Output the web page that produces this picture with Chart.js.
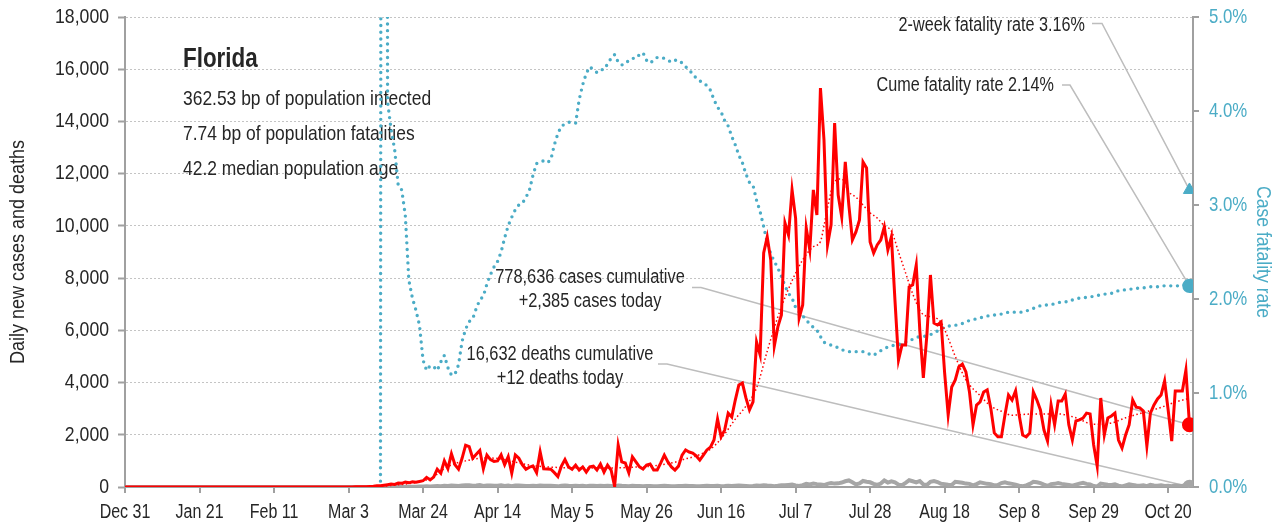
<!DOCTYPE html>
<html>
<head>
<meta charset="utf-8">
<script src="https://cdn.jsdelivr.net/npm/chart.js@4.4.0/dist/chart.umd.min.js"></script>
<style>
  html, body { margin: 0; padding: 0; background: #fff; }
</style>
</head>
<body>
<canvas id="chart" width="1278" height="527"></canvas>
<script>
// Day 0 = Dec 31; one value per day up to Oct 26 (day 300)
const tickLabels = ['Dec 31', 'Jan 21', 'Feb 11', 'Mar 3', 'Mar 24', 'Apr 14', 'May 5', 'May 26',
  'Jun 16', 'Jul 7', 'Jul 28', 'Aug 18', 'Sep 8', 'Sep 29', 'Oct 20'];

const cases = [
  0,0,0,0,0,0,0,0,0,0, 0,0,0,0,0,0,0,0,0,0, 0,0,0,0,0,0,0,0,0,0,
  0,0,0,0,0,0,0,0,0,0, 0,0,0,0,0,0,0,0,0,0, 0,0,0,0,0,0,0,0,0,0,
  0,2,0,2,3,5,8,10,12,20,
  30,45,50,70,90,110,100,150,140,190,
  160,200,180,210,240,370,270,380,680,530,
  1000,700,1270,850,680,1100,1600,1550,1100,1250,
  1400,700,1220,1050,980,1000,1230,850,1160,530,
  1230,1100,850,680,760,800,550,1350,700,690,
  680,550,400,800,1050,770,680,840,650,770,
  570,770,800,650,880,570,840,650,20,1610,
  960,920,540,1150,960,770,690,840,880,650,
  650,920,1220,960,770,650,800,1220,1420,1340,
  1300,1190,1030,1220,1420,1530,1800,2600,1920,2180,
  2830,2680,3330,3910,3980,3410,2950,3260,5550,5060,
  8960,9580,8690,5400,6130,6590,10110,9650,11380,10300,
  6470,6970,9920,9080,11380,10420,15280,13290,9270,10040,
  13940,11180,10340,12450,10800,9460,9770,10230,12450,12220,
  9380,8960,9270,9460,9960,9080,9580,7160,4860,5440,
  5440,7660,7740,8500,6010,4180,5820,8120,6280,6210,
  6320,4370,2760,3830,4100,4600,4710,4410,3640,2380,
  3140,3260,3640,3720,3030,2070,1920,1920,2760,3520,
  3330,3680,2760,1990,1920,2070,3640,3330,2950,2180,
  1760,3140,2380,3290,3290,3560,2380,1800,2530,2570,
  2640,2830,2800,1610,800,3410,1990,2640,2720,2830,
  1800,1490,1990,2380,3330,3060,3030,2910,1570,2830,
  3140,3370,3520,4060,2950,1760,3680,3680,3680,4480,
  2385
];

// 7-day average of new cases [day, value]
const casesAvg = [
  [60,0],[72,30],[78,100],[84,230],[87,400],[90,700],[93,900],[96,1000],[100,1100],[103,1110],
  [107,1050],[111,920],[115,820],[119,770],[124,740],[128,730],[133,730],[138,730],[143,760],
  [147,780],[151,850],[155,950],[158,1080],[160,1150],[165,1450],[168,1850],[172,2600],[175,3100],
  [178,3800],[181,5200],[183,6100],[185,6900],[188,7900],[191,8700],[194,9200],[196,9400],
  [197,10000],[198,10700],[200,11700],[202,11800],[204,11300],[206,11100],[208,10800],[210,10500],
  [212,10300],[214,10000],[216,9800],[218,9000],[220,8200],[222,7400],[225,6600],[228,6500],
  [230,6300],[232,5700],[234,5000],[237,4100],[241,3500],[244,3100],[247,2900],[250,2750],
  [256,2800],[263,2800],[268,2650],[273,2400],[278,2450],[282,2650],[287,2850],[292,3050],
  [296,3250],[300,3400]
];

const deaths = [
  0,0,0,0,0,0,0,0,0,0, 0,0,0,0,0,0,0,0,0,0, 0,0,0,0,0,0,0,0,0,0,
  0,0,0,0,0,0,0,0,0,0, 0,0,0,0,0,0,0,0,0,0, 0,0,0,0,0,0,0,0,0,0,
  0,0,0,0,0,0,0,1,1,2,
  1,2,3,2,4,3,5,6,8,10,
  9,12,14,18,20,25,22,30,35,28,
  45,40,55,50,38,60,70,65,48,55,
  72,40,58,60,45,50,65,42,55,30,
  60,58,48,40,42,52,35,60,48,45,
  50,38,25,48,55,45,40,50,42,48,
  30,44,50,38,46,35,48,40,10,60,
  45,42,30,48,40,35,30,38,40,28,
  30,42,45,38,30,25,35,40,45,38,
  35,30,28,40,45,38,40,50,30,35,
  45,40,48,55,50,40,25,35,60,45,
  65,55,50,30,45,70,65,80,95,60,
  40,70,120,100,130,110,95,75,120,156,
  130,140,170,220,250,180,100,140,230,200,
  180,120,80,130,250,170,220,180,90,70,
  160,260,220,180,230,100,80,200,230,190,
  120,110,90,80,200,180,160,130,120,60,
  110,180,150,120,110,60,80,150,180,140,
  120,90,50,30,60,120,200,180,150,90,
  40,110,120,150,120,100,80,50,90,130,
  160,120,100,40,20,130,110,90,80,100,
  50,20,60,100,80,60,50,70,30,80,
  60,50,70,40,50,30,60,50,40,80,
  12
];

// cumulative case fatality rate, %
const cfr = [
  0,0,0,0,0,0,0,0,0,0, 0,0,0,0,0,0,0,0,0,0, 0,0,0,0,0,0,0,0,0,0,
  0,0,0,0,0,0,0,0,0,0, 0,0,0,0,0,0,0,0,0,0, 0,0,0,0,0,0,0,0,0,0,
  0,0,0,0,0,0,0,0,0,0,
  0,0,0,50,4.10,3.80,3.59,3.21,3.16,2.89,
  2.20,2.01,1.88,1.72,1.35,1.24,1.29,1.28,1.24,1.33,
  1.40,1.27,1.19,1.20,1.30,1.55,1.68,1.76,1.79,1.90,
  1.99,2.03,2.16,2.26,2.34,2.40,2.50,2.65,2.78,2.87,
  2.95,3.00,3.02,3.08,3.16,3.32,3.44,3.46,3.47,3.45,
  3.48,3.64,3.76,3.84,3.86,3.88,3.88,3.87,4.12,4.28,
  4.40,4.47,4.44,4.41,4.44,4.44,4.50,4.56,4.60,4.52,
  4.49,4.50,4.54,4.56,4.56,4.60,4.62,4.54,4.51,4.54,
  4.57,4.57,4.56,4.54,4.52,4.54,4.54,4.51,4.47,4.44,
  4.39,4.35,4.32,4.30,4.27,4.22,4.12,4.04,3.99,3.90,
  3.84,3.73,3.64,3.53,3.45,3.33,3.24,3.21,3.05,2.93,
  2.77,2.60,2.48,2.40,2.33,2.24,2.14,2.06,2.01,1.91,
  1.86,1.82,1.78,1.73,1.70,1.67,1.60,1.54,1.52,1.51,
  1.50,1.48,1.46,1.45,1.44,1.44,1.44,1.44,1.44,1.43,
  1.41,1.40,1.43,1.45,1.47,1.49,1.50,1.51,1.51,1.53,
  1.54,1.56,1.57,1.59,1.60,1.60,1.61,1.62,1.64,1.66,
  1.68,1.70,1.71,1.72,1.72,1.73,1.74,1.76,1.77,1.78,
  1.79,1.80,1.81,1.82,1.82,1.83,1.83,1.84,1.85,1.86,
  1.86,1.86,1.86,1.86,1.87,1.89,1.90,1.91,1.93,1.93,
  1.94,1.94,1.95,1.96,1.97,1.97,1.97,1.99,2.00,2.01,
  2.01,2.02,2.02,2.03,2.04,2.04,2.05,2.06,2.06,2.07,
  2.09,2.09,2.10,2.10,2.11,2.11,2.12,2.12,2.12,2.13,
  2.13,2.13,2.14,2.14,2.14,2.14,2.14,2.14,2.15,2.15,
  2.14
];

const twoWeekRate = 3.16;
const totalCases = 778636;
const totalDeaths = 16632;
const stateName = 'Florida';
const infectedBp = 362.53;
const fatalBp = 7.74;
const medianAge = 42.2;

// no condensed face installed: Liberation Sans squeezed horizontally
const FONT = "'Liberation Sans', Arial, sans-serif";
const BLUE = '#4bacc6';
const RED = '#ff0000';
const GREY = '#a6a6a6';
const AXIS = '#a0a0a0';
const INK = '#262626';
const LAST = cases.length - 1;

Chart.defaults.font.family = FONT;

const xy = arr => arr.map((v, i) => ({ x: i, y: v }));
const lastOnly = r => c => c.dataIndex === LAST ? r : 0;

function squeezed(ctx, text, x, y, sx, align, rot) {
  ctx.save();
  ctx.translate(x, y);
  if (rot) ctx.rotate(rot);
  ctx.scale(sx, 1);
  ctx.textAlign = align;
  ctx.fillText(text, 0, 0);
  ctx.restore();
}

// Tick labels, axis titles, notes and leader lines
const textLayer = {
  id: 'textLayer',
  beforeDatasetsDraw(chart) {
    const { ctx, scales: { x, y, y2 } } = chart;
    const px = x.getPixelForValue(LAST);
    ctx.save();

    ctx.strokeStyle = '#bdbdbd';
    ctx.lineWidth = 1.5;
    const leader = (x0, y0, x1, tx, ty) => {
      ctx.beginPath();
      ctx.moveTo(x0, y0);
      ctx.lineTo(x1, y0);
      ctx.lineTo(tx, ty);
      ctx.stroke();
    };
    leader(1092, 23.5, 1102, px, y2.getPixelForValue(twoWeekRate));
    leader(1062, 85, 1070, px, y2.getPixelForValue(cfr[LAST]));
    leader(692, 287.5, 701, px, y.getPixelForValue(cases[LAST]));
    leader(658, 364, 667, px, y.getPixelForValue(deaths[LAST]));

    // axis tick labels
    ctx.font = `20px ${FONT}`;
    ctx.fillStyle = INK;
    ctx.textBaseline = 'alphabetic';
    x.ticks.forEach(t => {
      const lab = tickLabels[t.value / 21];
      if (lab) squeezed(ctx, lab, x.getPixelForValue(t.value), 518, 0.8, 'center');
    });
    ctx.font = `21px ${FONT}`;
    ctx.textBaseline = 'middle';
    y.ticks.forEach(t => {
      squeezed(ctx, t.value.toLocaleString('en-US'), 109, y.getPixelForValue(t.value), 0.84, 'right');
    });
    ctx.fillStyle = BLUE;
    y2.ticks.forEach(t => {
      squeezed(ctx, t.value.toFixed(1) + '%', 1209, y2.getPixelForValue(t.value), 0.8, 'left');
    });

    // axis titles
    const midY = (chart.chartArea.top + chart.chartArea.bottom) / 2;
    ctx.font = `20px ${FONT}`;
    ctx.fillStyle = INK;
    squeezed(ctx, 'Daily new cases and deaths', 18, midY, 0.9, 'center', -Math.PI / 2);
    ctx.fillStyle = BLUE;
    squeezed(ctx, 'Case fatality rate', 1263, midY, 0.88, 'center', Math.PI / 2);

    // notes
    ctx.fillStyle = INK;
    ctx.textBaseline = 'alphabetic';
    ctx.font = `bold 28px ${FONT}`;
    squeezed(ctx, stateName, 183, 67, 0.8, 'left');
    ctx.font = `21px ${FONT}`;
    squeezed(ctx, `${infectedBp} bp of population infected`, 183, 105, 0.83, 'left');
    squeezed(ctx, `${fatalBp} bp of population fatalities`, 183, 140, 0.83, 'left');
    squeezed(ctx, `${medianAge} median population age`, 183, 175, 0.83, 'left');

    ctx.font = `20px ${FONT}`;
    squeezed(ctx, `2-week fatality rate ${twoWeekRate.toFixed(2)}%`, 1085, 31, 0.81, 'right');
    squeezed(ctx, `Cume fatality rate ${cfr[LAST].toFixed(2)}%`, 1054, 91, 0.81, 'right');
    squeezed(ctx, `${totalCases.toLocaleString('en-US')} cases cumulative`, 590, 283, 0.82, 'center');
    squeezed(ctx, `+${cases[LAST].toLocaleString('en-US')} cases today`, 590, 307, 0.82, 'center');
    squeezed(ctx, `${totalDeaths.toLocaleString('en-US')} deaths cumulative`, 560, 360, 0.82, 'center');
    squeezed(ctx, `+${deaths[LAST]} deaths today`, 560, 384, 0.82, 'center');
    ctx.restore();
  }
};

const config = {
  type: 'line',
  data: {
    datasets: [
      {
        label: '2-week fatality rate',
        data: [{ x: LAST, y: twoWeekRate }],
        yAxisID: 'y2',
        showLine: false,
        pointStyle: 'triangle',
        pointRadius: 7,
        pointBackgroundColor: BLUE,
        pointBorderColor: BLUE,
        order: 0
      },
      {
        label: 'New cases',
        data: xy(cases),
        borderColor: RED,
        borderWidth: 3,
        pointRadius: lastOnly(6),
        pointBackgroundColor: RED,
        pointBorderColor: RED,
        order: 1
      },
      {
        label: 'New cases 7-day avg',
        data: casesAvg.map(p => ({ x: p[0], y: p[1] })),
        borderColor: RED,
        borderWidth: 1.5,
        borderDash: [1.5, 2.5],
        cubicInterpolationMode: 'monotone',
        pointRadius: 0,
        order: 2
      },
      {
        label: 'New deaths',
        data: xy(deaths),
        borderColor: GREY,
        borderWidth: 4,
        pointRadius: lastOnly(5),
        pointBackgroundColor: GREY,
        pointBorderColor: GREY,
        order: 3
      },
      {
        label: 'Case fatality rate',
        data: xy(cfr),
        yAxisID: 'y2',
        borderColor: BLUE,
        borderWidth: 3.4,
        borderDash: [0, 6.7],
        borderCapStyle: 'round',
        pointRadius: lastOnly(5.5),
        pointBackgroundColor: BLUE,
        pointBorderColor: BLUE,
        order: 4
      }
    ]
  },
  options: {
    responsive: false,
    animation: false,
    layout: { padding: { top: 17 } },
    plugins: {
      legend: { display: false },
      tooltip: { enabled: false }
    },
    scales: {
      x: {
        type: 'linear',
        min: 0,
        max: LAST + 1,
        ticks: { display: false, stepSize: 21, includeBounds: false, autoSkip: false },
        grid: { drawOnChartArea: false, drawTicks: true, tickLength: 6, color: AXIS, lineWidth: 2 },
        border: { color: AXIS, width: 2 },
        afterFit: s => { s.height = 40; }
      },
      y: {
        position: 'left',
        min: 0,
        max: 18000,
        ticks: { display: false, stepSize: 2000 },
        grid: { color: '#c4c4c4', lineWidth: 1, tickLength: 7, tickColor: AXIS, tickWidth: 2, tickBorderDash: [] },
        border: { color: AXIS, width: 2, dash: [2, 2] },
        afterFit: s => { s.width = 125; }
      },
      y2: {
        position: 'right',
        min: 0,
        max: 5,
        ticks: { display: false, stepSize: 1 },
        grid: { drawOnChartArea: false, tickLength: 6, color: AXIS, lineWidth: 2 },
        border: { color: AXIS, width: 2 },
        afterFit: s => { s.width = 85; }
      }
    }
  },
  plugins: [textLayer]
};

new Chart(document.getElementById('chart'), config);
</script>
</body>
</html>
